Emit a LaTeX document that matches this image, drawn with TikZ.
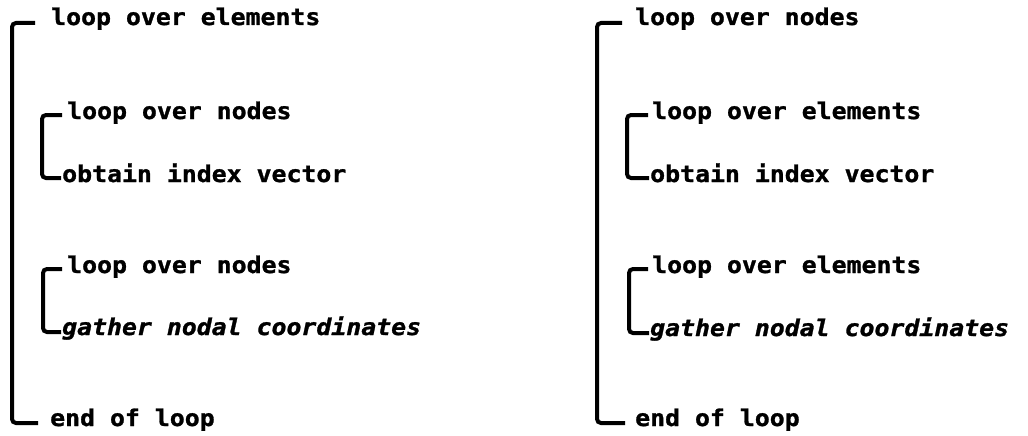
\documentclass[tikz,border=0pt]{standalone}
\usepackage{fontspec}
\newfontfamily\twfont{DejaVu Sans Mono}[FakeStretch=1.08,FakeBold=1.2]
\begin{document}
\begin{tikzpicture}[x=1pt,y=-1pt,
  lbl/.style={anchor=base west,inner sep=0pt,font=\twfont\bfseries\fontsize{23}{27}\selectfont},
  ilbl/.style={lbl,font=\twfont\bfseries\itshape\fontsize{23}{27}\selectfont},
  br/.style={line width=4pt,rounded corners=4pt,line cap=butt}]
\useasboundingbox[fill=white] (0,0) rectangle (1028,436);
% left column
\node[lbl] (la) at (51,25) {loop over elements};
\node[lbl] (lb) at (67,119) {loop over nodes};
\node[lbl] (lc) at (62,182) {obtain index vector};
\node[lbl] (ld) at (67,273) {loop over nodes};
\node[ilbl] (le) at (62,335) {gather nodal coordinates};
\node[lbl] (lf) at (50,426) {end of loop};
% right column
\node[lbl] (ra) at (635,25) {loop over nodes};
\node[lbl] (rb) at (652,119) {loop over elements};
\node[lbl] (rc) at (650,182) {obtain index vector};
\node[lbl] (rd) at (652,273) {loop over elements};
\node[ilbl] (re) at (650,336) {gather nodal coordinates};
\node[lbl] (rf) at (635,426) {end of loop};
% left brackets
\draw[br] ([xshift=-16pt,yshift=2pt]la.base west) -- ([xshift=-39pt,yshift=2pt]la.base west) |- ([xshift=-12pt,yshift=3pt]lf.base west);
\draw[br] ([xshift=-5pt,yshift=4pt]lb.base west) -- ([xshift=-25pt,yshift=4pt]lb.base west) |- ([xshift=-1pt,yshift=4pt]lc.base west);
\draw[br] ([xshift=-5pt,yshift=4pt]ld.base west) -- ([xshift=-24pt,yshift=4pt]ld.base west) |- ([xshift=-1pt,yshift=3pt]le.base west);
% right brackets
\draw[br] ([xshift=-13pt,yshift=2pt]ra.base west) -- ([xshift=-38pt,yshift=2pt]ra.base west) |- ([xshift=-10pt,yshift=3pt]rf.base west);
\draw[br] ([xshift=-4pt,yshift=4pt]rb.base west) -- ([xshift=-25pt,yshift=4pt]rb.base west) |- ([xshift=-1pt,yshift=4pt]rc.base west);
\draw[br] ([xshift=-4pt,yshift=4pt]rd.base west) -- ([xshift=-23pt,yshift=4pt]rd.base west) |- ([xshift=-1pt,yshift=3pt]re.base west);
\end{tikzpicture}
\end{document}
